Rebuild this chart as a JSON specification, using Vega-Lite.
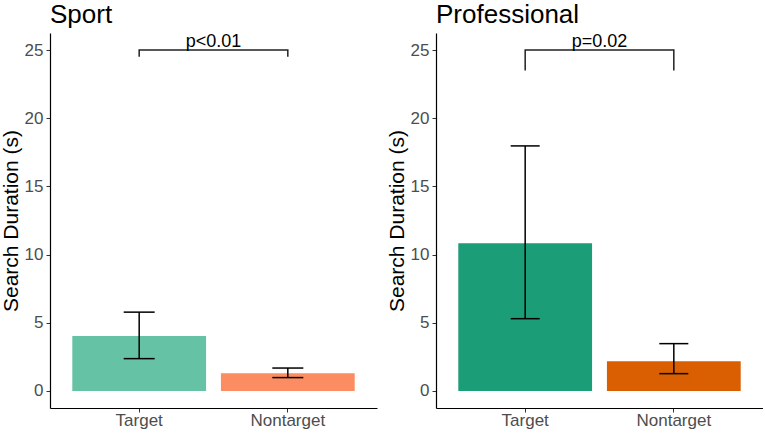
{
  "$schema": "https://vega.github.io/schema/vega-lite/v6.json",
  "padding": {"left": 0, "top": 2, "right": 0, "bottom": 4},
  "background": "white",
  "datasets": {
    "bars": [
      {"group": "Sport", "cond": "Target", "mean": 4.03, "lo": 2.37, "hi": 5.78},
      {"group": "Sport", "cond": "Nontarget", "mean": 1.29, "lo": 0.98, "hi": 1.68},
      {"group": "Professional", "cond": "Target", "mean": 10.83, "lo": 5.3, "hi": 17.97},
      {"group": "Professional", "cond": "Nontarget", "mean": 2.17, "lo": 1.27, "hi": 3.47}
    ],
    "bracket": [
      {"group": "Sport", "cond": "Target", "y": 24.5, "ord": 1},
      {"group": "Sport", "cond": "Target", "y": 25, "ord": 2},
      {"group": "Sport", "cond": "Nontarget", "y": 25, "ord": 3},
      {"group": "Sport", "cond": "Nontarget", "y": 24.5, "ord": 4},
      {"group": "Professional", "cond": "Target", "y": 23.5, "ord": 1},
      {"group": "Professional", "cond": "Target", "y": 25, "ord": 2},
      {"group": "Professional", "cond": "Nontarget", "y": 25, "ord": 3},
      {"group": "Professional", "cond": "Nontarget", "y": 23.5, "ord": 4}
    ],
    "labels": [
      {"group": "Sport", "cond": "Target", "y": 25, "label": "p<0.01"},
      {"group": "Professional", "cond": "Target", "y": 25, "label": "p=0.02"}
    ]
  },
  "config": {
    "font": "Liberation Sans",
    "view": {"stroke": null},
    "axis": {
      "grid": false,
      "domainColor": "black",
      "domainWidth": 1.2,
      "tickColor": "#333333",
      "tickSize": 4,
      "labelColor": "#4d4d4d",
      "labelFontSize": 17,
      "titleColor": "black",
      "titleFontSize": 21,
      "titleFontWeight": "normal"
    },
    "title": {"anchor": "start", "frame": "group", "fontSize": 26, "fontWeight": "normal", "color": "black", "offset": 5},
    "concat": {"spacing": 9}
  },
  "resolve": {"scale": {"color": "independent"}},
  "hconcat": [
    {
      "title": "Sport",
      "width": 327,
      "height": 375,
      "encoding": {
        "x": {"field": "cond", "type": "nominal", "title": null,
          "scale": {"domain": ["Target", "Nontarget"], "paddingInner": 0.1, "paddingOuter": 0.15},
          "axis": {"labelAngle": 0, "labelPadding": 0}}
      },
      "layer": [
        {
          "data": {"name": "bars"},
          "transform": [{"filter": "datum.group === 'Sport'"}],
          "mark": {"type": "bar"},
          "encoding": {
            "y": {"field": "mean", "type": "quantitative", "title": "Search Duration (s)",
              "scale": {"domain": [-1.25, 26.25], "nice": false, "zero": false},
              "axis": {"values": [0, 5, 10, 15, 20, 25], "titlePadding": 3, "labelPadding": 3}},
            "color": {"field": "cond", "type": "nominal", "legend": null,
              "scale": {"domain": ["Target", "Nontarget"], "range": ["#66c2a5", "#fc8d62"]}}
          }
        },
        {
          "data": {"name": "bars"},
          "transform": [{"filter": "datum.group === 'Sport'"}],
          "mark": {"type": "rule", "color": "black", "strokeWidth": 1.5},
          "encoding": {"y": {"field": "lo", "type": "quantitative"}, "y2": {"field": "hi"}}
        },
        {
          "data": {"name": "bars"},
          "transform": [{"filter": "datum.group === 'Sport'"}],
          "mark": {"type": "tick", "color": "black", "size": 31, "thickness": 1.5, "opacity": 1},
          "encoding": {"y": {"field": "lo", "type": "quantitative"}}
        },
        {
          "data": {"name": "bars"},
          "transform": [{"filter": "datum.group === 'Sport'"}],
          "mark": {"type": "tick", "color": "black", "size": 31, "thickness": 1.5, "opacity": 1},
          "encoding": {"y": {"field": "hi", "type": "quantitative"}}
        },
        {
          "data": {"name": "bracket"},
          "transform": [{"filter": "datum.group === 'Sport'"}],
          "mark": {"type": "line", "color": "#222222", "strokeWidth": 1.5},
          "encoding": {"y": {"field": "y", "type": "quantitative"}, "order": {"field": "ord"}}
        },
        {
          "data": {"name": "labels"},
          "transform": [{"filter": "datum.group === 'Sport'"}],
          "mark": {"type": "text", "fontSize": 18, "baseline": "alphabetic", "dy": -3, "color": "black"},
          "encoding": {
            "x": {"field": "cond", "type": "nominal", "bandPosition": 1.0556},
            "y": {"field": "y", "type": "quantitative"},
            "text": {"field": "label"}
          }
        }
      ]
    },
    {
      "title": "Professional",
      "width": 327,
      "height": 375,
      "encoding": {
        "x": {"field": "cond", "type": "nominal", "title": null,
          "scale": {"domain": ["Target", "Nontarget"], "paddingInner": 0.1, "paddingOuter": 0.15},
          "axis": {"labelAngle": 0, "labelPadding": 0}}
      },
      "layer": [
        {
          "data": {"name": "bars"},
          "transform": [{"filter": "datum.group === 'Professional'"}],
          "mark": {"type": "bar"},
          "encoding": {
            "y": {"field": "mean", "type": "quantitative", "title": "Search Duration (s)",
              "scale": {"domain": [-1.25, 26.25], "nice": false, "zero": false},
              "axis": {"values": [0, 5, 10, 15, 20, 25], "titlePadding": 3, "labelPadding": 3}},
            "color": {"field": "cond", "type": "nominal", "legend": null,
              "scale": {"domain": ["Target", "Nontarget"], "range": ["#1b9e77", "#d95f02"]}}
          }
        },
        {
          "data": {"name": "bars"},
          "transform": [{"filter": "datum.group === 'Professional'"}],
          "mark": {"type": "rule", "color": "black", "strokeWidth": 1.5},
          "encoding": {"y": {"field": "lo", "type": "quantitative"}, "y2": {"field": "hi"}}
        },
        {
          "data": {"name": "bars"},
          "transform": [{"filter": "datum.group === 'Professional'"}],
          "mark": {"type": "tick", "color": "black", "size": 29, "thickness": 1.5, "opacity": 1},
          "encoding": {"y": {"field": "lo", "type": "quantitative"}}
        },
        {
          "data": {"name": "bars"},
          "transform": [{"filter": "datum.group === 'Professional'"}],
          "mark": {"type": "tick", "color": "black", "size": 29, "thickness": 1.5, "opacity": 1},
          "encoding": {"y": {"field": "hi", "type": "quantitative"}}
        },
        {
          "data": {"name": "bracket"},
          "transform": [{"filter": "datum.group === 'Professional'"}],
          "mark": {"type": "line", "color": "#222222", "strokeWidth": 1.5},
          "encoding": {"y": {"field": "y", "type": "quantitative"}, "order": {"field": "ord"}}
        },
        {
          "data": {"name": "labels"},
          "transform": [{"filter": "datum.group === 'Professional'"}],
          "mark": {"type": "text", "fontSize": 18, "baseline": "alphabetic", "dy": -3, "color": "black"},
          "encoding": {
            "x": {"field": "cond", "type": "nominal", "bandPosition": 1.0556},
            "y": {"field": "y", "type": "quantitative"},
            "text": {"field": "label"}
          }
        }
      ]
    }
  ]
}
